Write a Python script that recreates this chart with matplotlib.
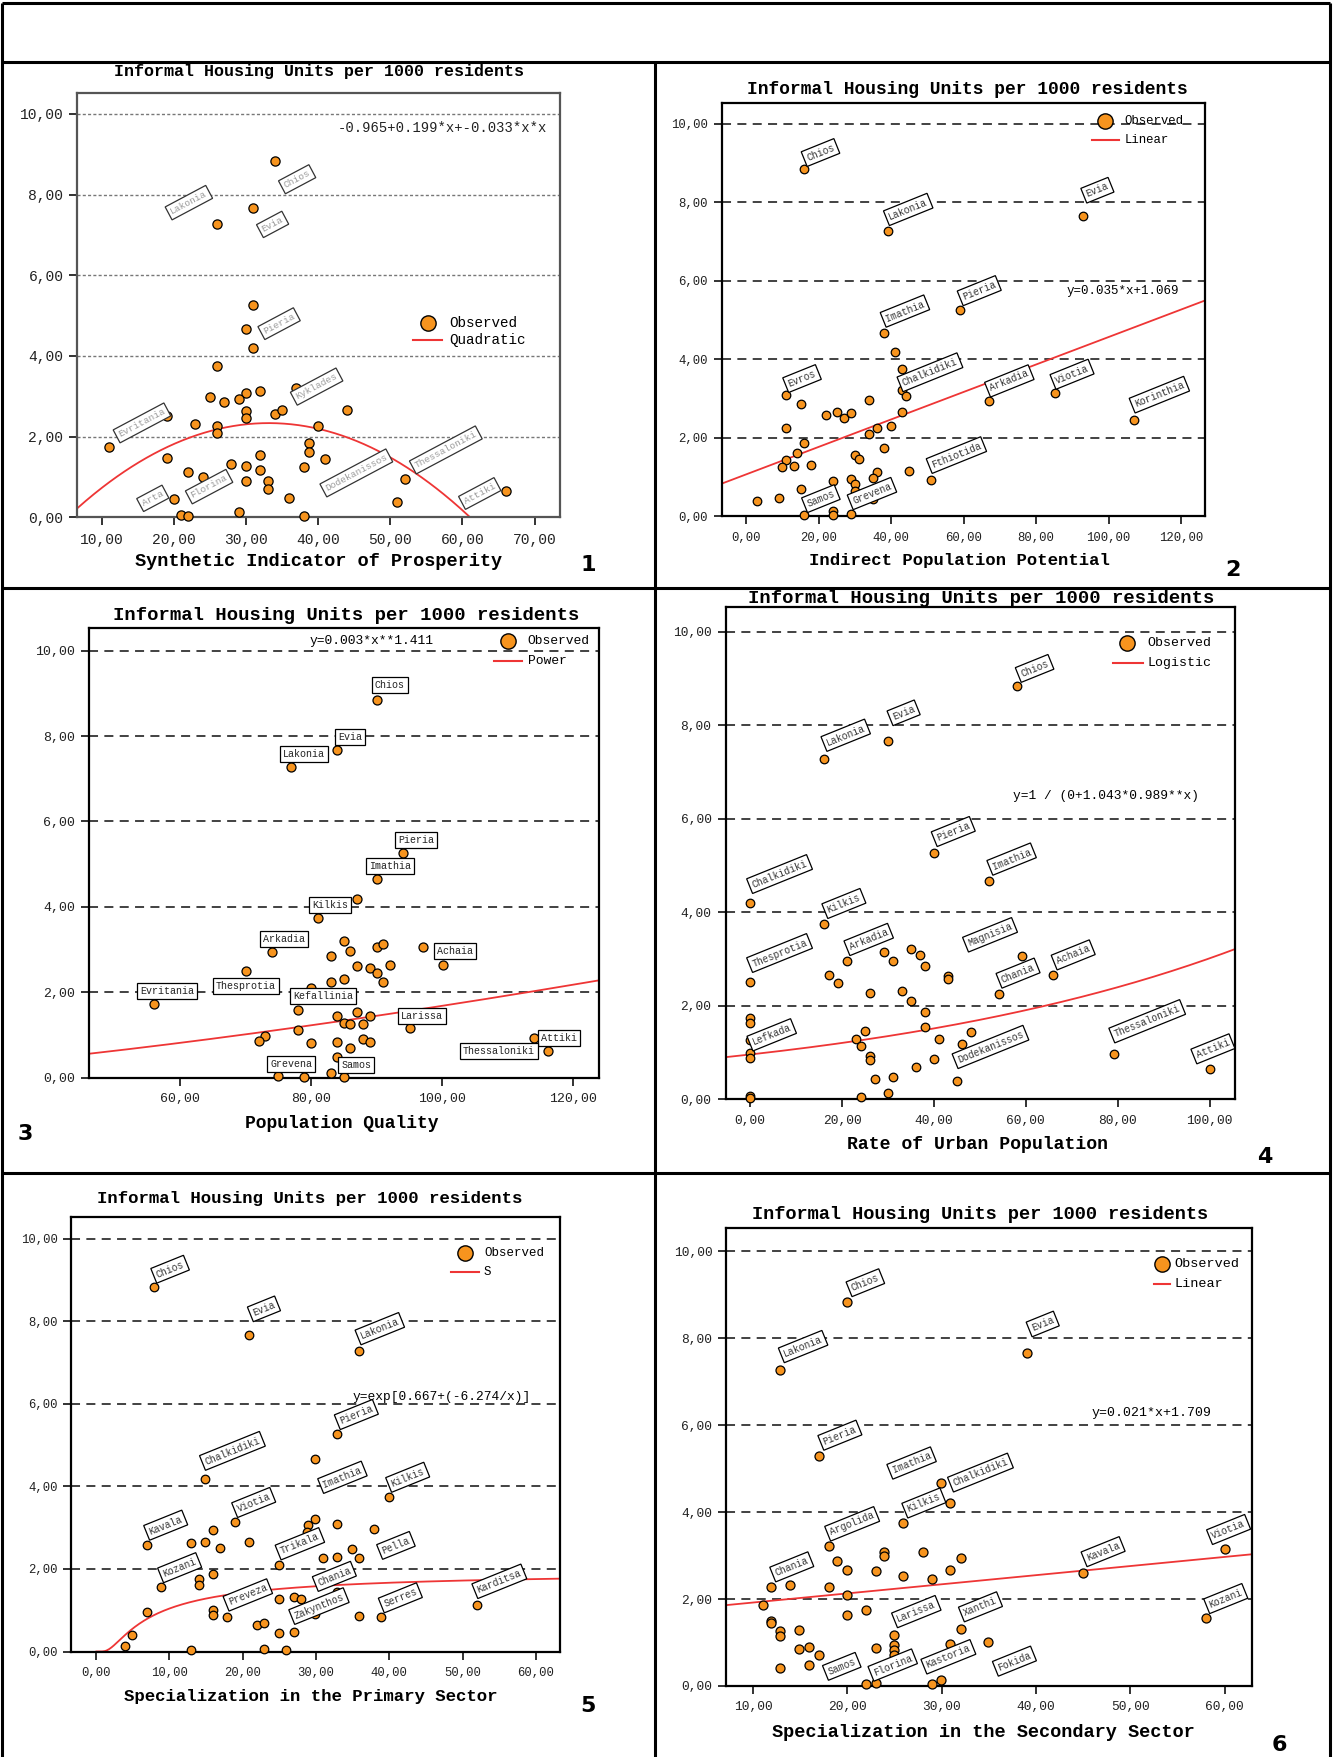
import numpy as np
import matplotlib
matplotlib.use("Agg")
import matplotlib.pyplot as plt
from matplotlib.lines import Line2D

# ---------------- data: informal housing units per 1000 residents ----------------
# Panel 1: Synthetic Indicator of Prosperity
p1_x = [34.0, 31.0, 26.0, 31.0, 30.0, 31.0, 26.0, 32.0, 37.0, 30.0, 25.0, 29.0, 27.0, 30.0,
        30.0, 34.0, 35.0, 44.0, 19.0, 23.0, 26.0, 26.0, 40.0, 11.0, 38.8, 38.8, 19.0, 41.0,
        32.0, 28.0, 30.0, 32.0, 38.0, 22.0, 24.0, 30.0, 33.0, 33.0, 20.1, 36.0, 52.0, 51.0,
        66.1, 29.0, 21.0, 22.0, 38.0]
p1_y = [8.83, 7.66, 7.28, 5.27, 4.66, 4.19, 3.75, 3.14, 3.21, 3.07, 2.97, 2.94, 2.86, 2.63,
        2.45, 2.57, 2.66, 2.65, 2.51, 2.31, 2.27, 2.10, 2.26, 1.74, 1.85, 1.61, 1.47, 1.44,
        1.55, 1.31, 1.27, 1.17, 1.25, 1.13, 0.99, 0.91, 0.89, 0.69, 0.45, 0.47, 0.95, 0.39,
        0.65, 0.14, 0.06, 0.03, 0.03]
p1_names = ["Lakonia", "Chios", "Evia", "Pieria", "Kyklades", "Evritania", "Arta",
            "Florina", "Dodekanissos", "Thessaloniki", "Attiki"]
p1_coef = [-0.965, 0.199, -0.003]

# Panel 2: Indirect Population Potential
p2_x = [16.0, 39.0, 92.9, 59.0, 38.1, 41.0, 43.1, 43.1, 44.0, 11.1, 15.0, 34.0, 22.1, 25.1,
        27.0, 29.0, 43.1, 67.0, 85.1, 107.0, 11.1, 36.0, 40.0, 34.0, 16.0, 38.1, 14.1, 11.1,
        29.9, 31.0, 10.0, 13.1, 18.0, 36.0, 45.0, 51.1, 24.0, 29.0, 29.9, 35.0, 15.0, 3.0,
        9.0, 29.9, 24.0, 24.0, 16.0, 29.0, 35.0]
p2_y = [8.84, 7.27, 7.66, 5.27, 4.67, 4.19, 3.75, 3.21, 3.07, 3.08, 2.86, 2.97, 2.58, 2.65,
        2.51, 2.63, 2.66, 2.94, 3.14, 2.46, 2.26, 2.26, 2.31, 2.10, 1.86, 1.75, 1.62, 1.44,
        1.55, 1.47, 1.25, 1.27, 1.31, 1.13, 1.16, 0.92, 0.89, 0.96, 0.83, 0.97, 0.70, 0.38,
        0.46, 0.64, 0.13, 0.03, 0.03, 0.05, 0.45]
p2_names = ["Chios", "Lakonia", "Evia", "Pieria", "Imathia", "Chalkidiki", "Evros",
            "Arkadia", "Viotia", "Korinthia", "Fthiotida", "Samos", "Grevena"]
p2_coef = [1.069, 0.035]

# Panel 3: Population Quality
p3_x = [90.0, 84.0, 77.0, 94.1, 90.0, 87.0, 81.0, 74.0, 85.0, 86.0, 83.0, 90.0, 91.0, 97.1,
        100.1, 87.0, 89.0, 90.0, 92.0, 70.0, 83.0, 85.0, 91.0, 80.0, 56.0, 78.0, 84.0, 87.0,
        89.0, 85.0, 86.0, 88.0, 95.1, 78.0, 73.0, 72.0, 80.0, 84.0, 88.0, 89.0, 86.0, 84.0,
        114.0, 116.1, 83.0, 75.0, 79.0, 85.0]
p3_y = [8.84, 7.67, 7.28, 5.27, 4.66, 4.19, 3.74, 2.94, 3.21, 2.97, 2.85, 3.07, 3.14, 3.06,
        2.65, 2.62, 2.57, 2.46, 2.64, 2.50, 2.25, 2.31, 2.25, 2.11, 1.74, 1.60, 1.46, 1.54,
        1.44, 1.29, 1.26, 1.25, 1.16, 1.12, 0.98, 0.87, 0.82, 0.83, 0.91, 0.85, 0.69, 0.48,
        0.94, 0.63, 0.11, 0.04, 0.03, 0.03]
p3_names = ["Chios", "Evia", "Lakonia", "Pieria", "Imathia", "Kilkis", "Arkadia", "Achaia",
            "Thesprotia", "Evritania", "Kefallinia", "Larissa", "Attiki", "Thessaloniki",
            "Grevena", "Samos"]
p3_coef = [0.00254, 1.411]

# Panel 4: Rate of Urban Population
p4_x = [58.0, 30.1, 16.1, 40.1, 52.0, 0.0, 16.1, 35.1, 29.2, 37.0, 59.1, 31.0, 21.1, 38.1,
        43.1, 43.1, 17.1, 66.0, 19.1, 0.0, 33.1, 26.1, 54.1, 35.1, 38.1, 0.0, 0.0, 38.1,
        25.1, 48.1, 41.1, 23.0, 0.0, 46.1, 24.1, 0.0, 0.0, 26.1, 26.1, 40.1, 79.1, 36.1,
        100.0, 27.1, 31.0, 45.1, 30.1, 24.2, 0.0, 0.0]
p4_y = [8.85, 7.67, 7.29, 5.28, 4.67, 4.19, 3.75, 3.21, 3.15, 3.08, 3.07, 2.97, 2.95, 2.86,
        2.63, 2.58, 2.66, 2.66, 2.48, 2.51, 2.31, 2.27, 2.26, 2.10, 1.86, 1.75, 1.63, 1.55,
        1.47, 1.45, 1.30, 1.28, 1.26, 1.18, 1.14, 1.00, 0.89, 0.93, 0.84, 0.87, 0.96, 0.70,
        0.64, 0.44, 0.47, 0.39, 0.13, 0.04, 0.06, 0.02]
p4_names = ["Chios", "Evia", "Lakonia", "Pieria", "Imathia", "Chalkidiki", "Kilkis",
            "Arkadia", "Magnisia", "Thesprotia", "Chania", "Achaia", "Lefkada",
            "Dodekanissos", "Thessaloniki", "Attiki"]
p4_coef = [0.0, 1.043, 0.9886]

# Panel 5: Specialization in the Primary Sector
p5_x = [7.9, 20.9, 35.9, 32.9, 29.9, 14.9, 39.9, 19.0, 29.9, 28.9, 32.9, 37.9, 16.0, 6.9,
        12.9, 14.9, 16.9, 20.9, 28.8, 34.9, 30.9, 32.9, 35.9, 25.0, 15.9, 14.0, 14.0, 8.9,
        6.9, 16.0, 16.0, 17.9, 25.0, 27.0, 27.9, 32.9, 29.9, 21.9, 22.9, 25.0, 27.0, 35.9,
        38.9, 52.0, 4.9, 3.9, 12.9, 22.9, 25.9]
p5_y = [8.84, 7.67, 7.28, 5.28, 4.67, 4.19, 3.75, 3.14, 3.21, 3.06, 3.08, 2.96, 2.94, 2.58,
        2.63, 2.66, 2.50, 2.65, 2.90, 2.48, 2.26, 2.30, 2.26, 2.09, 1.87, 1.76, 1.62, 1.56,
        0.95, 1.00, 0.89, 0.83, 1.26, 1.31, 1.27, 1.45, 0.91, 0.64, 0.69, 0.44, 0.47, 0.87,
        0.84, 1.13, 0.39, 0.13, 0.03, 0.05, 0.03]
p5_names = ["Chios", "Evia", "Lakonia", "Pieria", "Chalkidiki", "Imathia", "Kilkis",
            "Viotia", "Kavala", "Trikala", "Pella", "Kozani", "Chania", "Preveza",
            "Zakynthos", "Serres", "Karditsa"]
p5_coef = [0.667, -6.274]

# Panel 6: Specialization in the Secondary Sector
p6_x = [20.0, 12.9, 39.0, 17.0, 29.9, 30.9, 25.9, 18.0, 18.9, 23.9, 23.9, 28.0, 32.0, 20.0,
        23.0, 25.9, 29.0, 30.9, 45.0, 60.0, 11.9, 13.9, 18.0, 20.0, 11.0, 20.0, 22.0, 58.0,
        11.9, 11.9, 12.9, 12.9, 14.9, 32.0, 24.9, 24.9, 24.9, 23.0, 30.9, 34.9, 14.9, 15.9,
        17.0, 15.9, 12.9, 22.0, 23.0, 29.0, 29.9, 24.9]
p6_y = [8.84, 7.28, 7.67, 5.28, 4.67, 4.20, 3.76, 3.22, 2.87, 3.09, 2.99, 3.08, 2.95, 2.66,
        2.64, 2.52, 2.47, 2.66, 2.59, 3.15, 2.27, 2.32, 2.27, 2.10, 1.87, 1.63, 1.75, 1.56,
        1.49, 1.45, 1.27, 1.14, 1.28, 1.32, 1.17, 0.93, 0.83, 0.88, 0.96, 1.00, 0.84, 0.90,
        0.71, 0.47, 0.41, 0.04, 0.07, 0.04, 0.14, 0.70]
p6_names = ["Chios", "Lakonia", "Evia", "Pieria", "Imathia", "Chalkidiki", "Kilkis",
            "Argolida", "Chania", "Kavala", "Viotia", "Larissa", "Xanthi", "Kozani",
            "Samos", "Florina", "Kastoria", "Fokida"]
p6_coef = [1.709, 0.021]

y_ticks = [0, 2, 4, 6, 8, 10]

# ---------------- figure layout (pixel based) ----------------
W, H = 1333, 1757
MONO = ["Liberation Mono", "DejaVu Sans Mono"]
ORANGE = "#F7941E"
RED = "#EE3535"
YTOP = 10.53

fig = plt.figure(figsize=(W / 100, H / 100), dpi=100)
fig.patch.set_facecolor("white")


def px_axes(l, t, r, b):
    return fig.add_axes([l / W, 1 - b / H, (r - l) / W, (b - t) / H])


def ftext(x, y, s, **kw):
    fig.text(x / W, 1 - y / H, s, **kw)


def fline(x0, y0, x1, y1, lw=2.2):
    fig.add_artist(Line2D([x0 / W, x1 / W], [1 - y0 / H, 1 - y1 / H],
                          color="black", lw=lw, solid_capstyle="butt"))


def comma(v, pos=None):
    return f"{v:.2f}".replace(".", ",")


def setup(ax, xlim, xticks, grid_style, spine_color, tick_fs):
    ax.set_xlim(*xlim)
    ax.set_ylim(0, YTOP)
    ax.set_xticks(xticks)
    ax.set_yticks(y_ticks)
    ax.xaxis.set_major_formatter(plt.FuncFormatter(comma))
    ax.yaxis.set_major_formatter(plt.FuncFormatter(comma))
    ax.tick_params(direction="out", length=6, width=1.3, pad=4,
                   labelsize=tick_fs, colors="#222222")
    ax.tick_params(axis="x", pad=5)
    for lab in ax.get_xticklabels() + ax.get_yticklabels():
        lab.set_family(MONO)
    for sp in ax.spines.values():
        sp.set_color(spine_color)
        sp.set_linewidth(1.6)
    for v in y_ticks[1:]:
        ax.axhline(v, **grid_style, zorder=1)


def points(ax, xs, ys, size=38):
    ax.scatter(xs, ys, s=size, c=ORANGE, edgecolors="black", linewidths=0.9,
               zorder=3, clip_on=False)


def labels(ax, names, pos, rot, fs=7.0, tc="#333333", ec="black"):
    for name, (lx, ly) in zip(names, pos):
        ax.text(lx, ly, name, rotation=rot, rotation_mode="anchor", ha="center",
                va="center", fontsize=fs, family=MONO, color=tc, zorder=4,
                bbox=dict(boxstyle="square,pad=0.3", fc="white", ec=ec, lw=0.9))


def legend(ax, mk, txt_x, y1, y2, line_x, fit_name, fs):
    ax.plot([mk], [y1], marker="o", ms=11, mfc=ORANGE, mec="black", mew=1.0,
            ls="none", clip_on=False, zorder=5)
    ax.plot(line_x, [y2, y2], color=RED, lw=1.5, clip_on=False, zorder=5)
    ax.text(txt_x, y1, "Observed", fontsize=fs, family=MONO, va="center", zorder=5)
    ax.text(txt_x, y2, fit_name, fontsize=fs, family=MONO, va="center", zorder=5)


dash_grid = dict(color="#333333", lw=1.3, ls=(0, (5, 3.5)))
dot_grid = dict(color="#777777", lw=1.0, ls=(0, (2.2, 1.6)))

# ---------------- panel 1 ----------------
ax1 = px_axes(77.3, 92.5, 559.7, 517.3)
xl1 = (6.64, 73.48)
setup(ax1, xl1, [10, 20, 30, 40, 50, 60, 70], dot_grid, "#555555", 10.5)
fx1 = np.linspace(*xl1, 400)
ax1.plot(fx1, p1_coef[0] + p1_coef[1] * fx1 + p1_coef[2] * fx1 ** 2, color=RED, lw=1.3, zorder=2)
points(ax1, p1_x, p1_y, size=44)
labels(ax1, p1_names,
       [(22.1, 7.80), (37.1, 8.38), (33.7, 7.26), (34.6, 4.80), (39.8, 3.24), (15.6, 2.34),
        (17.1, 0.47), (24.9, 0.76), (45.3, 1.10), (57.7, 1.67), (62.4, 0.59)],
       rot=28, fs=6.8, tc="#9a9a9a", ec="#333333")
ax1.text(71.7, 9.66, "-0.965+0.199*x+-0.033*x*x", ha="right", va="center",
         fontsize=10, family=MONO, color="#222222")
legend(ax1, 55.2, 58.15, 4.82, 4.40, [53.2, 57.2], "Quadratic", 10.3)
ftext(319.5, 71.4, "Informal Housing Units per 1000 residents", ha="center", va="center",
      fontsize=12, weight="bold", family=MONO)
ftext(318.1, 561, "Synthetic Indicator of Prosperity", ha="center", va="center",
      fontsize=13.4, weight="bold", family=MONO)
ftext(588, 565, "1", ha="center", va="center", fontsize=16, weight="bold", family="DejaVu Sans")

# ---------------- panel 2 ----------------
ax2 = px_axes(722.0, 103.1, 1205.4, 516.3)
xl2 = (-6.68, 126.7)
setup(ax2, xl2, [0, 20, 40, 60, 80, 100, 120], dash_grid, "black", 8.9)
fx2 = np.linspace(*xl2, 50)
ax2.plot(fx2, p2_coef[0] + p2_coef[1] * fx2, color=RED, lw=1.3, zorder=2)
points(ax2, p2_x, p2_y)
labels(ax2, p2_names,
       [(20.5, 9.27), (44.7, 7.82), (96.9, 8.31), (64.3, 5.75), (43.8, 5.23), (50.7, 3.67),
        (15.4, 3.51), (72.6, 3.45), (89.9, 3.62), (114.0, 3.10), (58.0, 1.56), (20.6, 0.45),
        (34.7, 0.58)], rot=22)
ax2.text(119.4, 5.75, "y=0.035*x+1.069", ha="right", va="center", fontsize=9, family=MONO)
legend(ax2, 99.0, 104.3, 10.07, 9.60, [95.3, 102.8], "Linear", 8.9)
ftext(967.6, 89.8, "Informal Housing Units per 1000 residents", ha="center", va="center",
      fontsize=12.9, weight="bold", family=MONO)
ftext(959.8, 560, "Indirect Population Potential", ha="center", va="center",
      fontsize=12.4, weight="bold", family=MONO)
ftext(1233, 570, "2", ha="center", va="center", fontsize=16, weight="bold", family="DejaVu Sans")

# ---------------- panel 3 ----------------
ax3 = px_axes(89.0, 627.9, 598.6, 1077.9)
xl3 = (46.1, 123.9)
setup(ax3, xl3, [60, 80, 100, 120], dash_grid, "black", 9.5)
fx3 = np.linspace(*xl3, 200)
ax3.plot(fx3, p3_coef[0] * fx3 ** p3_coef[1], color=RED, lw=1.3, zorder=2)
points(ax3, p3_x, p3_y, size=42)
labels(ax3, p3_names,
       [(92.0, 9.19), (86.0, 7.97), (78.9, 7.58), (96.0, 5.57), (92.0, 4.96), (82.9, 4.05),
        (75.9, 3.24), (102.0, 2.96), (70.0, 2.16), (58.0, 2.04), (81.9, 1.91), (96.9, 1.46),
        (117.8, 0.94), (108.7, 0.63), (77.0, 0.33), (86.9, 0.31)],
       rot=0, fs=7.2, tc="#222222")
ax3.text(89.3, 10.22, "y=0.003*x**1.411", ha="center", va="center", fontsize=9.4, family=MONO)
legend(ax3, 110.0, 113.1, 10.22, 9.76, [107.9, 112.2], "Power", 9.4)
ftext(346, 615, "Informal Housing Units per 1000 residents", ha="center", va="center",
      fontsize=13.6, weight="bold", family=MONO)
ftext(341.5, 1123.8, "Population Quality", ha="center", va="center",
      fontsize=13, weight="bold", family=MONO)
ftext(25, 1134, "3", ha="center", va="center", fontsize=16, weight="bold", family="DejaVu Sans")

# ---------------- panel 4 ----------------
ax4 = px_axes(725.5, 607.2, 1235.2, 1099.3)
xl4 = (-5.36, 105.55)
setup(ax4, xl4, [0, 20, 40, 60, 80, 100], dash_grid, "black", 9.3)
fx4 = np.linspace(*xl4, 200)
ax4.plot(fx4, 1.0 / (p4_coef[0] + p4_coef[1] * p4_coef[2] ** fx4), color=RED, lw=1.3, zorder=2)
points(ax4, p4_x, p4_y)
labels(ax4, p4_names,
       [(61.9, 9.22), (33.4, 8.27), (20.8, 7.79), (44.2, 5.73), (56.9, 5.14), (6.4, 4.82),
        (20.4, 4.19), (25.8, 3.42), (52.2, 3.52), (6.4, 3.13), (58.3, 2.70), (70.3, 3.09),
        (4.7, 1.38), (52.3, 1.12), (86.4, 1.67), (100.7, 1.08)], rot=22)
ax4.text(77.4, 6.49, "y=1 / (0+1.043*0.989**x)", ha="center", va="center",
         fontsize=9.3, family=MONO)
legend(ax4, 82.1, 86.5, 9.76, 9.34, [79.0, 85.4], "Logistic", 9.5)
ftext(981, 598.9, "Informal Housing Units per 1000 residents", ha="center", va="center",
      fontsize=13.6, weight="bold", family=MONO)
ftext(977.1, 1144.8, "Rate of Urban Population", ha="center", va="center",
      fontsize=13.1, weight="bold", family=MONO)
ftext(1264.6, 1157, "4", ha="center", va="center", fontsize=16, weight="bold", family="DejaVu Sans")

# ---------------- panel 5 ----------------
ax5 = px_axes(71.4, 1216.8, 560.2, 1651.5)
xl5 = (-3.36, 63.3)
setup(ax5, xl5, [0, 10, 20, 30, 40, 50, 60], dash_grid, "black", 8.8)
fx5 = np.linspace(0.05, xl5[1], 400)
ax5.plot(fx5, np.exp(p5_coef[0] + p5_coef[1] / fx5), color=RED, lw=1.3, zorder=2)
points(ax5, p5_x, p5_y)
labels(ax5, p5_names,
       [(10.1, 9.26), (22.9, 8.30), (38.7, 7.82), (35.5, 5.74), (18.6, 4.86), (33.6, 4.22),
        (42.5, 4.22), (21.5, 3.61), (9.5, 3.06), (27.8, 2.61), (40.9, 2.57), (11.4, 2.03),
        (32.5, 1.82), (20.7, 1.37), (30.4, 1.10), (41.5, 1.30), (55.0, 1.70)], rot=22)
ax5.text(47.2, 6.16, "y=exp[0.667+(-6.274/x)]", ha="center", va="center",
         fontsize=9.3, family=MONO, zorder=0.5)
legend(ax5, 50.3, 52.9, 9.65, 9.20, [48.4, 52.25], "S", 9.0)
ftext(309.7, 1198, "Informal Housing Units per 1000 residents", ha="center", va="center",
      fontsize=12.5, weight="bold", family=MONO)
ftext(311.2, 1696, "Specialization in the Primary Sector", ha="center", va="center",
      fontsize=12.5, weight="bold", family=MONO)
ftext(587.7, 1706.5, "5", ha="center", va="center", fontsize=16, weight="bold", family="DejaVu Sans")

# ---------------- panel 6 ----------------
ax6 = px_axes(726.3, 1228.4, 1251.6, 1685.9)
xl6 = (7.16, 62.84)
setup(ax6, xl6, [10, 20, 30, 40, 50, 60], dash_grid, "black", 9.3)
fx6 = np.linspace(*xl6, 50)
ax6.plot(fx6, p6_coef[0] + p6_coef[1] * fx6, color=RED, lw=1.3, zorder=2)
points(ax6, p6_x, p6_y, size=42)
labels(ax6, p6_names,
       [(21.9, 9.28), (15.3, 7.81), (40.7, 8.33), (19.2, 5.77), (26.8, 5.13), (34.1, 4.91),
        (28.1, 4.21), (20.5, 3.73), (14.1, 2.74), (47.1, 3.09), (60.4, 3.60), (27.3, 1.71),
        (34.1, 1.82), (60.1, 2.01), (19.4, 0.45), (24.8, 0.48), (30.7, 0.67), (37.7, 0.57)],
       rot=22)
ax6.text(52.2, 6.28, "y=0.021*x+1.709", ha="center", va="center", fontsize=9.5, family=MONO)
legend(ax6, 53.3, 54.7, 9.72, 9.26, [52.5, 54.2], "Linear", 9.7)
ftext(980.1, 1214.9, "Informal Housing Units per 1000 residents", ha="center", va="center",
      fontsize=13.4, weight="bold", family=MONO)
ftext(983.6, 1732.7, "Specialization in the Secondary Sector", ha="center", va="center",
      fontsize=13.4, weight="bold", family=MONO)
ftext(1279.7, 1744.7, "6", ha="center", va="center", fontsize=16, weight="bold", family="DejaVu Sans")

# ---------------- frame lines around the panel grid ----------------
fline(2, 3, 1330, 3)
fline(2, 62, 1330, 62)
fline(2, 3, 2, 1757)
fline(1330, 3, 1330, 1757)
fline(655, 62, 655, 1757)
fline(2, 588, 1330, 588)
fline(2, 1173, 1330, 1173)

fig.savefig("out.png", dpi=100, facecolor="white")
